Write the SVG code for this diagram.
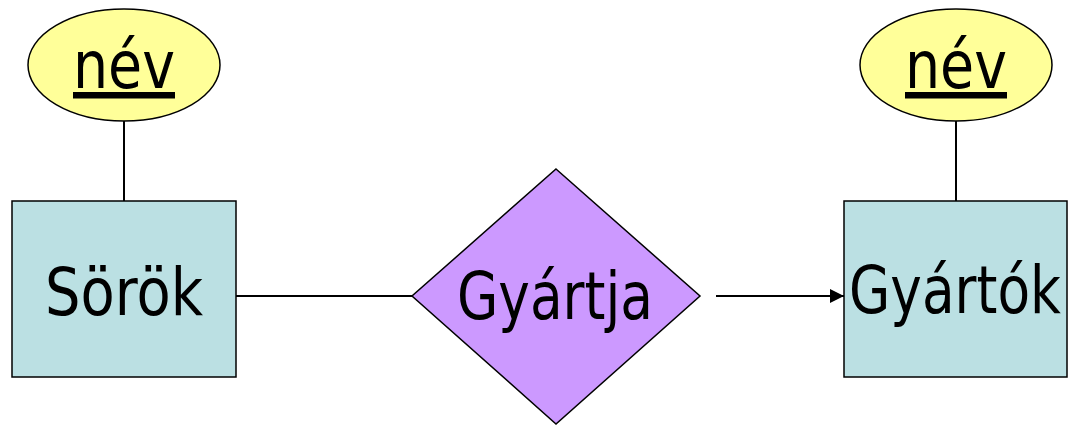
<svg xmlns="http://www.w3.org/2000/svg" width="1068" height="425" viewBox="0 0 1068 425">
<style>
.lbl{font-family:"DejaVu Sans","Verdana",sans-serif;font-size:65px;fill:#000}
.attr{fill:#FFFF99;stroke:#000;stroke-width:1.5}
.ent{fill:#BBE0E3;stroke:#000;stroke-width:1.5}
.rel{fill:#CC99FF;stroke:#000;stroke-width:1.5}
.con{stroke:#000;stroke-width:2;fill:none}
</style>
<defs>
<marker id="arr" markerWidth="14" markerHeight="14" refX="14" refY="7" orient="auto" markerUnits="userSpaceOnUse">
<path d="M0,0 L14,7 L0,14 Z" fill="#000"/>
</marker>
</defs>
<rect width="1068" height="425" fill="#fff"/>
<g id="connectors">
<line class="con" x1="124" y1="121" x2="124" y2="201"/>
<line class="con" x1="956" y1="121" x2="956" y2="201"/>
<line class="con" x1="236" y1="296" x2="412" y2="296"/>
<line class="con" x1="716" y1="296" x2="844" y2="296" marker-end="url(#arr)"/>
</g>
<g id="attr-nev-1">
<ellipse class="attr" cx="124" cy="65" rx="96" ry="56"/>
<text class="lbl" x="124" y="88" text-anchor="middle" text-decoration="underline" textLength="102" lengthAdjust="spacingAndGlyphs">név</text>
</g>
<g id="attr-nev-2">
<ellipse class="attr" cx="956" cy="65" rx="96" ry="56"/>
<text class="lbl" x="956" y="88" text-anchor="middle" text-decoration="underline" textLength="102" lengthAdjust="spacingAndGlyphs">név</text>
</g>
<g id="ent-sorok">
<rect class="ent" x="12" y="201" width="224" height="176"/>
<text class="lbl" x="124" y="315" text-anchor="middle" textLength="158" lengthAdjust="spacingAndGlyphs">Sörök</text>
</g>
<g id="ent-gyartok">
<rect class="ent" x="844" y="201" width="223" height="176"/>
<text class="lbl" x="955" y="313" text-anchor="middle" textLength="212" lengthAdjust="spacingAndGlyphs">Gyártók</text>
</g>
<g id="rel-gyartja">
<polygon class="rel" points="556,169 700,296 556,424 412,296"/>
<text class="lbl" x="555" y="319" text-anchor="middle" textLength="196" lengthAdjust="spacingAndGlyphs">Gyártja</text>
</g>
</svg>
